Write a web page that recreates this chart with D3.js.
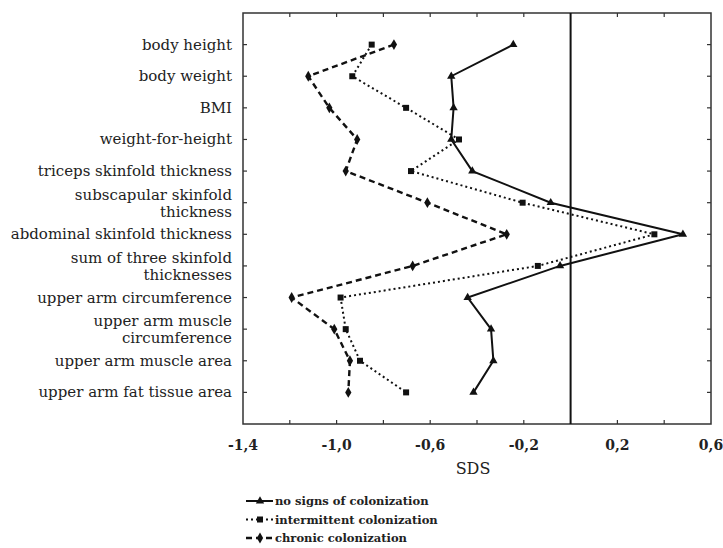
<!DOCTYPE html>
<html>
<head>
<meta charset="utf-8">
<script src="https://cdn.jsdelivr.net/npm/d3@7"></script>
<style>
body{margin:0;background:#fff;}
svg{display:block;}
svg text{font-family:"DejaVu Serif","Liberation Serif","Noto Serif",serif;}
</style>
</head>
<body>
<svg width="723" height="548"></svg>
<script>
// categories, top to bottom (each entry = lines of the label)
var categories = [
    ["body height"],
    ["body weight"],
    ["BMI"],
    ["weight-for-height"],
    ["triceps skinfold thickness"],
    ["subscapular skinfold", "thickness"],
    ["abdominal skinfold thickness"],
    ["sum of three skinfold", "thicknesses"],
    ["upper arm circumference"],
    ["upper arm muscle", "circumference"],
    ["upper arm muscle area"],
    ["upper arm fat tissue area"]
]

// SDS values
var noSigns = [-0.245, -0.51, -0.50, -0.51, -0.42, -0.085, 0.48, -0.045, -0.44, -0.34, -0.33, -0.415]
var intermittent = [-0.85, -0.933, -0.703, -0.477, -0.682, -0.205, 0.358, -0.14, -0.983, -0.961, -0.90, -0.703]
var chronic = [-0.755, -1.121, -1.031, -0.912, -0.961, -0.612, -0.273, -0.675, -1.192, -1.01, -0.943, -0.95]

var xTickValues = [-1.4, -1.0, -0.6, -0.2, 0.2, 0.6]
var xMinorTicks = [-1.2, -1.0, -0.8, -0.6, -0.4, -0.2, 0.2, 0.4]
var seriesNames = ["no signs of colonization", "intermittent colonization", "chronic colonization"]

var plot = {left:243, right:711, top:13, bottom:424}

var svg = d3.select("svg")

var xScale = d3.scaleLinear()
    .domain([-1.4, 0.6])
    .range([plot.left, plot.right])

var yScale = d3.scalePoint()
    .domain(d3.range(categories.length))
    .range([plot.top, plot.bottom])
    .padding(1)

var fmt = function(d){ return d3.format(".1f")(d).replace(".", ",").replace("−", "-") }

// frame
svg.append("rect")
    .attr("x", plot.left)
    .attr("y", plot.top)
    .attr("width", plot.right - plot.left)
    .attr("height", plot.bottom - plot.top)
    .attr("fill", "none")
    .attr("stroke", "#333")
    .attr("stroke-width", 1.5)

// inner ticks, all four sides
var tickG = svg.append("g").attr("stroke", "#333").attr("stroke-width", 1.2)
tickG.selectAll(".tb").data(xMinorTicks).enter().append("line")
    .attr("x1", function(d){ return xScale(d) }).attr("x2", function(d){ return xScale(d) })
    .attr("y1", plot.bottom).attr("y2", plot.bottom - 4)
tickG.selectAll(".tt").data(xMinorTicks).enter().append("line")
    .attr("x1", function(d){ return xScale(d) }).attr("x2", function(d){ return xScale(d) })
    .attr("y1", plot.top).attr("y2", plot.top + 4)
tickG.selectAll(".tl").data(d3.range(categories.length)).enter().append("line")
    .attr("x1", plot.left).attr("x2", plot.left + 4)
    .attr("y1", function(d){ return yScale(d) }).attr("y2", function(d){ return yScale(d) })
tickG.selectAll(".tr").data(d3.range(categories.length)).enter().append("line")
    .attr("x1", plot.right).attr("x2", plot.right - 4)
    .attr("y1", function(d){ return yScale(d) }).attr("y2", function(d){ return yScale(d) })

// zero line
svg.append("line")
    .attr("x1", xScale(0)).attr("x2", xScale(0))
    .attr("y1", plot.top).attr("y2", plot.bottom)
    .attr("stroke", "#111")
    .attr("stroke-width", 2)

// x tick labels
svg.append("g").selectAll("text").data(xTickValues).enter().append("text")
    .attr("x", function(d){ return xScale(d) })
    .attr("y", 450)
    .attr("text-anchor", "middle")
    .style("font-size", "14px")
    .style("font-weight", "bold")
    .attr("fill", "#222")
    .text(fmt)

svg.append("text")
    .attr("x", 473)
    .attr("y", 474)
    .attr("text-anchor", "middle")
    .style("font-size", "16px")
    .attr("fill", "#222")
    .text("SDS")

// category labels
var catLabels = svg.append("g").selectAll("text")
    .data(categories).enter().append("text")
    .attr("text-anchor", "end")
    .style("font-size", "15px")
    .attr("fill", "#222")
    .attr("transform", function(d, i){ return "translate(232," + yScale(i) + ")" })
catLabels.selectAll("tspan")
    .data(function(d){ return d.map(function(t, j){ return {t:t, j:j, n:d.length} }) })
    .enter().append("tspan")
    .attr("x", 0)
    .attr("y", function(d){ return d.n == 1 ? 5 : (d.j == 0 ? -3 : 14) })
    .text(function(d){ return d.t })

// series
var series = [
    {name:seriesNames[0], values:noSigns, dash:null, width:2, symbol:d3.symbolTriangle, size:30},
    {name:seriesNames[1], values:intermittent, dash:"2,3", width:2, symbol:d3.symbolSquare, size:36},
    {name:seriesNames[2], values:chronic, dash:"6,4", width:2.4, symbol:d3.symbolDiamond, size:34}
]

var line = d3.line()
    .x(function(d){ return xScale(d) })
    .y(function(d, i){ return yScale(i) })

series.forEach(function(s)
{
    var g = svg.append("g")
    g.append("path")
        .attr("d", line(s.values))
        .attr("fill", "none")
        .attr("stroke", "#111")
        .attr("stroke-width", s.width)
        .attr("stroke-dasharray", s.dash)
    g.selectAll("path.pt").data(s.values).enter().append("path")
        .attr("class", "pt")
        .attr("d", d3.symbol().type(s.symbol).size(s.size))
        .attr("transform", function(d, i){ return "translate(" + xScale(d) + "," + yScale(i) + ")" })
        .attr("fill", "#111")
})

// legend
var legend = svg.append("g")
    .attr("transform", "translate(246,501)")
var entries = legend.selectAll("g").data(series).enter().append("g")
    .attr("transform", function(d, i){ return "translate(0," + i * 18.5 + ")" })
entries.append("line")
    .attr("x1", 0).attr("x2", 27)
    .attr("stroke", "#111")
    .attr("stroke-width", function(d){ return d.width })
    .attr("stroke-dasharray", function(d){ return d.dash })
entries.append("path")
    .attr("d", function(d){ return d3.symbol().type(d.symbol).size(d.size)() })
    .attr("transform", "translate(14,0)")
    .attr("fill", "#111")
entries.append("text")
    .attr("x", 29)
    .attr("y", 4)
    .style("font-size", "11.5px")
    .style("font-weight", "bold")
    .attr("fill", "#222")
    .text(function(d){ return d.name })
</script>
</body>
</html>
